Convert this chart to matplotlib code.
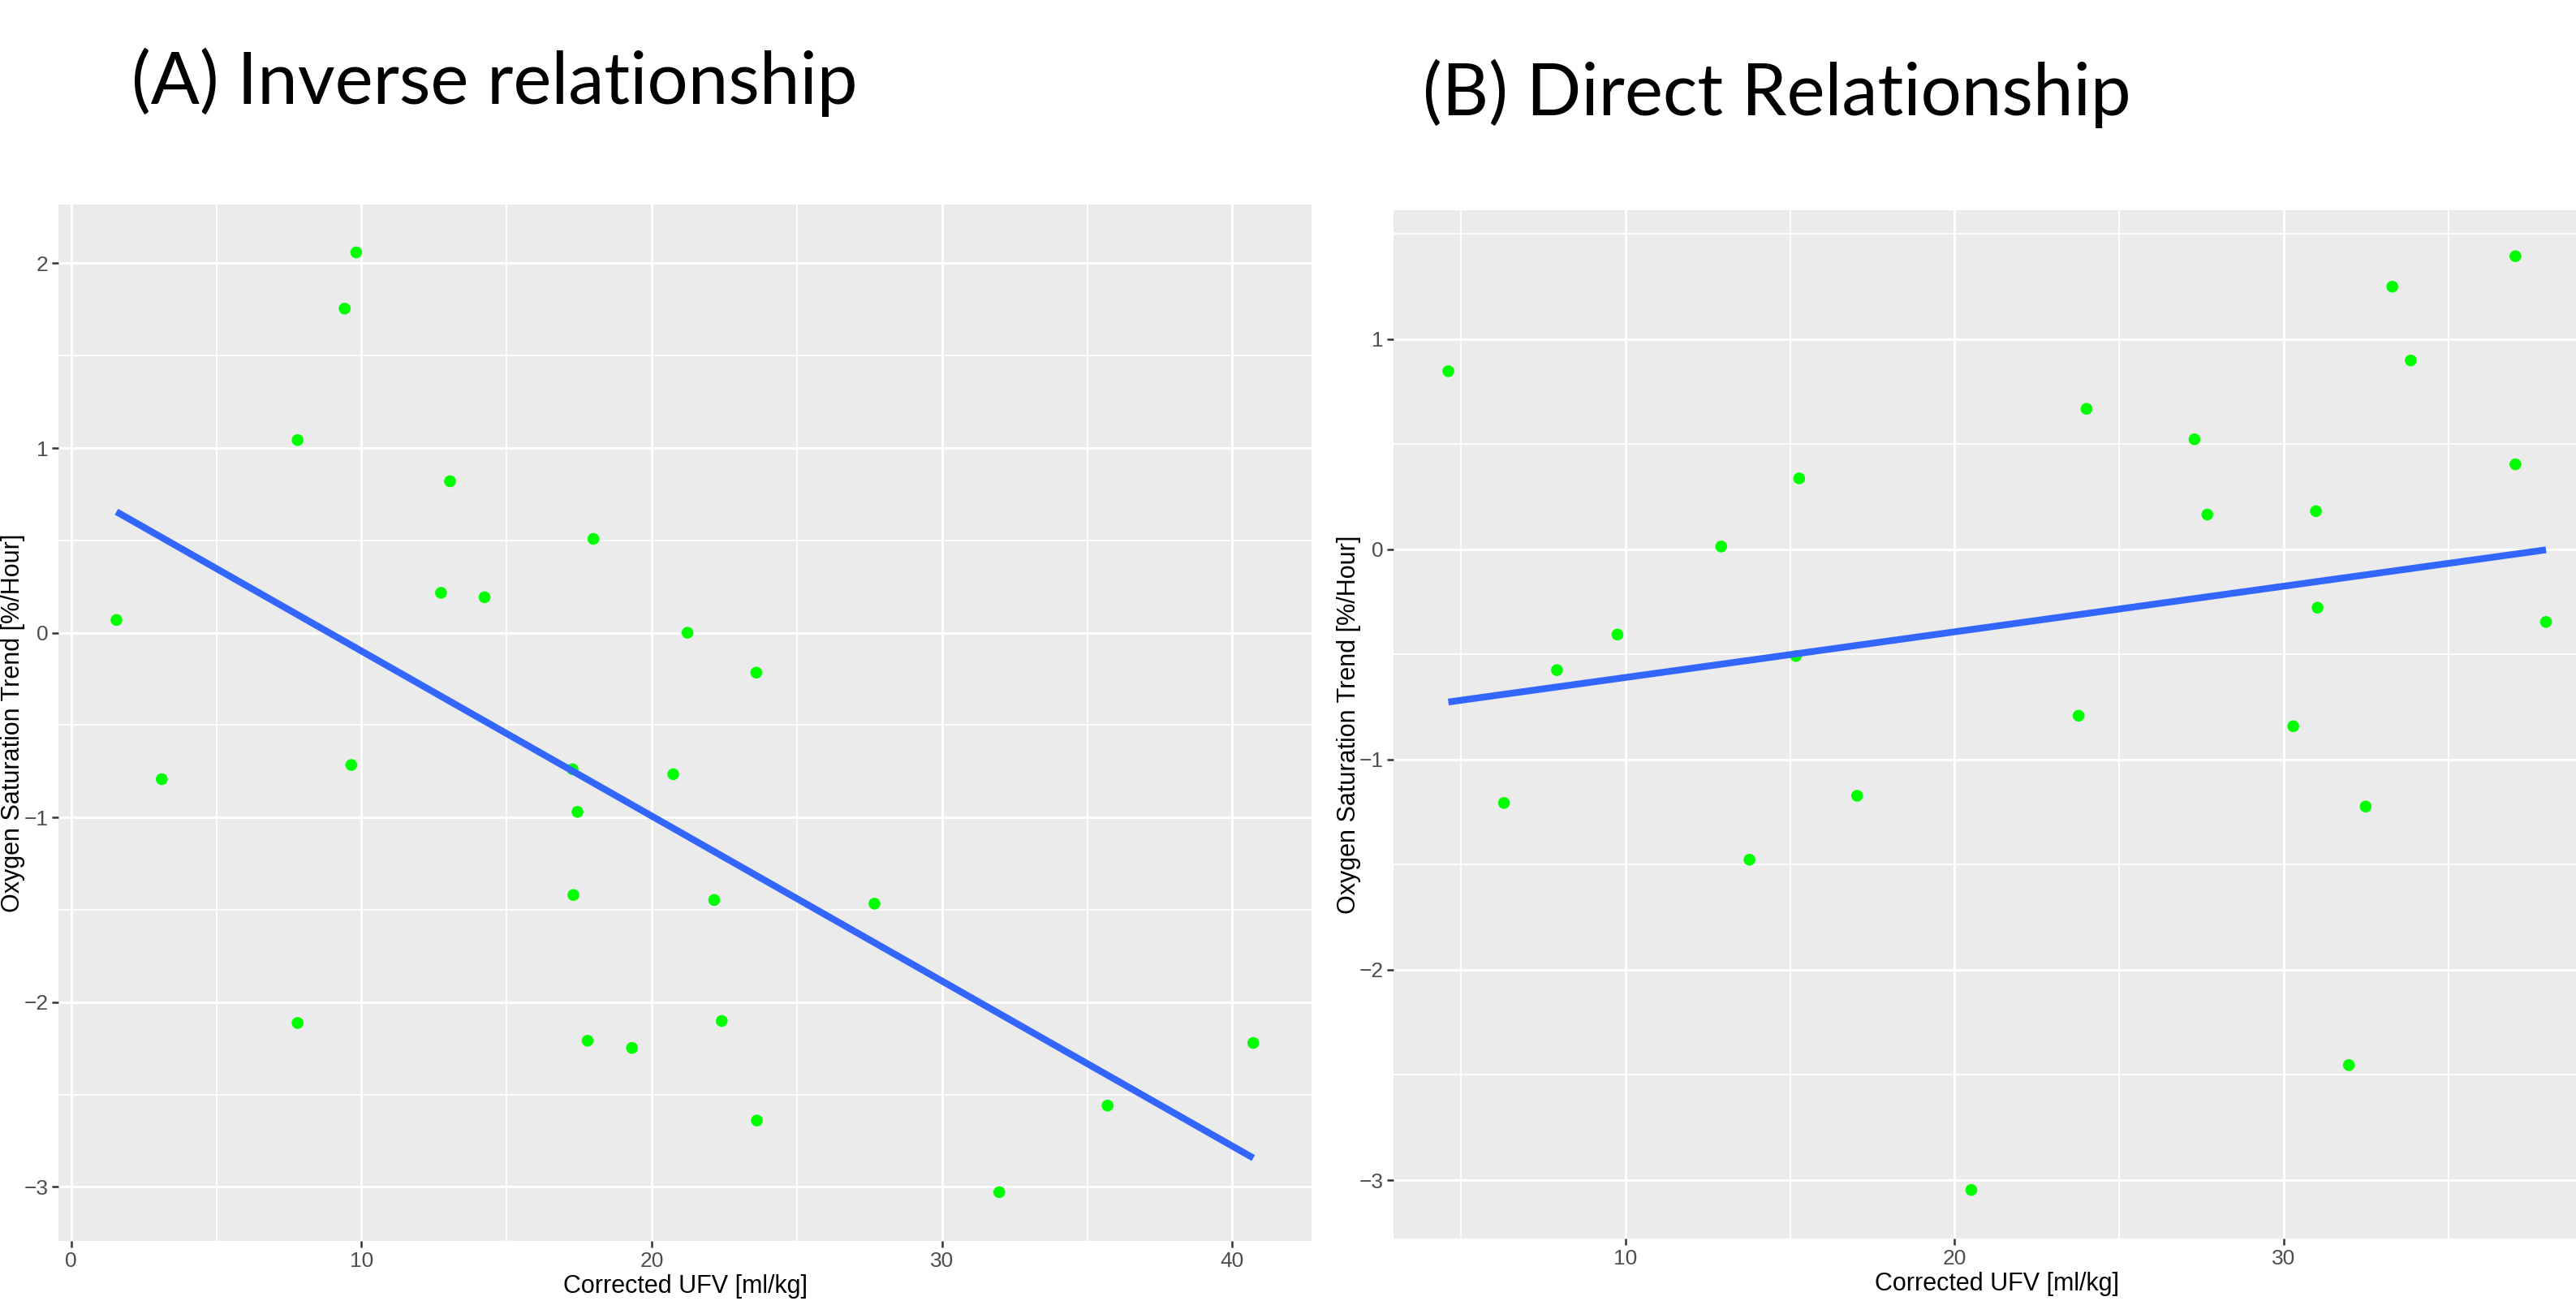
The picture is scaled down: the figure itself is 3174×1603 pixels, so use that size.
import numpy as np
import matplotlib
matplotlib.use("Agg")
import matplotlib.pyplot as plt
import matplotlib.ticker as ticker

# (A) inverse relationship
ufv_a = [1.56, 3.12, 7.80, 7.80, 9.42, 9.82, 9.65, 12.74, 13.05, 14.24,
         17.27, 17.44, 17.30, 17.99, 17.79, 19.32, 20.74, 21.23, 22.15, 22.41,
         23.60, 23.62, 27.67, 31.97, 35.70, 40.72]
o2_a = [0.069, -0.793, 1.043, -2.113, 1.755, 2.059, -0.716, 0.216, 0.820, 0.192,
        -0.739, -0.970, -1.420, 0.508, -2.209, -2.248, -0.766, 0.000, -1.447, -2.102,
        -0.216, -2.641, -1.467, -3.029, -2.560, -2.221]

# (B) direct relationship
ufv_b = [4.62, 6.31, 7.92, 9.76, 12.91, 13.77, 15.18, 15.28, 17.04, 20.51,
         23.77, 24.01, 27.29, 27.68, 30.29, 30.98, 31.03, 31.98, 32.49, 33.30,
         33.86, 37.04, 37.04, 37.97]
o2_b = [0.848, -1.206, -0.574, -0.405, 0.014, -1.476, -0.507, 0.338, -1.172, -3.047,
        -0.791, 0.669, 0.524, 0.166, -0.841, 0.182, -0.277, -2.453, -1.223, 1.250,
        0.899, 1.395, 0.405, -0.345]

titles = ["(A) Inverse relationship", "(B) Direct Relationship"]
xlab = "Corrected UFV [ml/kg]"
ylab = "Oxygen Saturation Trend [%/Hour]"

narrow = ["Liberation Sans Narrow", "Liberation Sans", "DejaVu Sans"]
regular = ["Liberation Sans", "DejaVu Sans"]

fig = plt.figure(figsize=(31.74, 16.03), dpi=100)
fig.patch.set_facecolor("white")

ax1 = fig.add_axes([0.02278, 0.04616, 0.4864, 0.7966])
ax2 = fig.add_axes([0.5409, 0.04803, 0.4688, 0.7906])


def gg_panel(ax, x, y, xlim, ylim, xmajor, ylab_x):
    x = np.array(x)
    y = np.array(y)
    ax.set_facecolor("#EBEBEB")
    for s in ax.spines.values():
        s.set_visible(False)
    ax.set_xlim(*xlim)
    ax.set_ylim(*ylim)
    ax.xaxis.set_major_locator(ticker.FixedLocator(xmajor))
    ax.xaxis.set_minor_locator(ticker.MultipleLocator(5))
    ax.yaxis.set_major_locator(ticker.MultipleLocator(1))
    ax.yaxis.set_minor_locator(ticker.MultipleLocator(0.5))
    ax.grid(which="major", color="white", lw=2.2, zorder=0)
    ax.grid(which="minor", color="white", lw=1.3, zorder=0)
    ax.set_axisbelow(True)
    ax.tick_params(which="major", length=5.5, width=1.8, color="#333333",
                   labelcolor="#4D4D4D", labelsize=19, pad=3.5)
    ax.tick_params(which="minor", length=0)
    for lab in ax.get_xticklabels() + ax.get_yticklabels():
        lab.set_family(narrow)

    # points
    ax.scatter(x, y, s=110, color="#00FF00", edgecolors="none", zorder=3)

    # lm fit over the data range
    k, b = np.polyfit(x, y, 1)
    xs = np.array([x.min(), x.max()])
    ax.plot(xs, k * xs + b, color="#3366FF", lw=6, solid_capstyle="butt", zorder=4)

    ax.set_xlabel(xlab, family=narrow, fontsize=22, color="black", labelpad=3)
    ax.set_ylabel(ylab, family=regular, fontsize=22, color="black")
    ax.yaxis.set_label_coords(ylab_x, 0.5)


gg_panel(ax1, ufv_a, o2_a, (-0.43, 42.73), (-3.293, 2.318), [0, 10, 20, 30, 40], -0.0268)
gg_panel(ax2, ufv_b, o2_b, (2.95, 39.64), (-3.278, 1.615), [10, 20, 30], -0.0267)

title_font = ["Lato", "Open Sans", "DejaVu Sans"]
fig.text(0.0510, 0.937, titles[0], family=title_font, fontsize=64, va="center", ha="left")
fig.text(0.5523, 0.928, titles[1], family=title_font, fontsize=64, va="center", ha="left")

fig.savefig("out.png", dpi=100, facecolor="white")
